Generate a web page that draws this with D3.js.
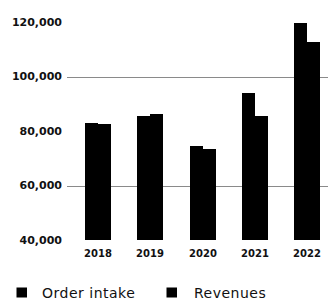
<!DOCTYPE html>
<html>
<head>
<meta charset="utf-8">
<script src="https://cdn.jsdelivr.net/npm/d3@7"></script>
<style>
  html, body { margin: 0; padding: 0; background: #fff; }
  svg { display: block; }
</style>
</head>
<body>
<svg id="chart" width="328" height="300"></svg>
<script>
const years = ["2018", "2019", "2020", "2021", "2022"];
const orderIntake = [83000, 85500, 74500, 94000, 119600];
const revenues = [82600, 86200, 73300, 85500, 112500];
const seriesNames = ["Order intake", "Revenues"];
const yTicks = [40000, 60000, 80000, 100000, 120000];
const gridValues = [60000, 100000];

const svg = d3.select("#chart");

const x = d3.scaleBand().domain(years).range([72, 333.25]).paddingInner(0.5).paddingOuter(0.25);
const xs = d3.scaleBand().domain(seriesNames).range([0, 26]);
const y = d3.scaleLinear().domain([40000, 120000]).range([240, 22]);

// gridlines
svg.append("g").selectAll("line").data(gridValues).join("line")
  .attr("x1", 67).attr("x2", 328)
  .attr("y1", d => Math.round(y(d)) + 0.5).attr("y2", d => Math.round(y(d)) + 0.5)
  .attr("stroke", "#8a8a8a").attr("stroke-width", 1);

// y labels
const fmt = d3.format(",");
svg.append("g").selectAll("text").data(yTicks).join("text")
  .attr("x", 62).attr("y", d => y(d))
  .attr("dy", "0.36em")
  .attr("text-anchor", "end")
  .attr("font-family", "DejaVu Sans")
  .attr("font-weight", "bold")
  .attr("font-size", 11)
  .attr("fill", "#111")
  .text(d => fmt(d));

// bars
const rows = years.map((yr, i) => ({ year: yr, values: [orderIntake[i], revenues[i]] }));
const groups = svg.append("g").selectAll("g").data(rows).join("g")
  .attr("transform", d => `translate(${Math.round(x(d.year))},0)`);
groups.selectAll("rect").data(d => d.values.map((v, j) => ({ name: seriesNames[j], v })))
  .join("rect")
  .attr("x", d => xs(d.name))
  .attr("width", xs.bandwidth())
  .attr("y", d => y(d.v))
  .attr("height", d => y(40000) - y(d.v))
  .attr("shape-rendering", "crispEdges")
  .attr("fill", "#000");

// x labels
svg.append("g").selectAll("text").data(years).join("text")
  .attr("x", d => Math.round(x(d)) + 13)
  .attr("y", 256.5)
  .attr("text-anchor", "middle")
  .attr("font-family", "DejaVu Sans")
  .attr("font-weight", "bold")
  .attr("font-size", 10)
  .attr("fill", "#111")
  .text(d => d);

// legend
const legendX = [16.5, 166.5];
const leg = svg.append("g").selectAll("g").data(seriesNames).join("g")
  .attr("transform", (d, i) => `translate(${legendX[i]},0)`);
leg.append("rect").attr("x", 0).attr("y", 287.5).attr("width", 10.5).attr("height", 10).attr("fill", "#000");
leg.append("text")
  .attr("x", (d, i) => i === 0 ? 25.5 : 27.5)
  .attr("y", 297.5)
  .attr("font-family", "DejaVu Sans")
  .attr("font-size", 14)
  .attr("letter-spacing", 0.5)
  .attr("fill", "#111")
  .text(d => d);
</script>
</body>
</html>
